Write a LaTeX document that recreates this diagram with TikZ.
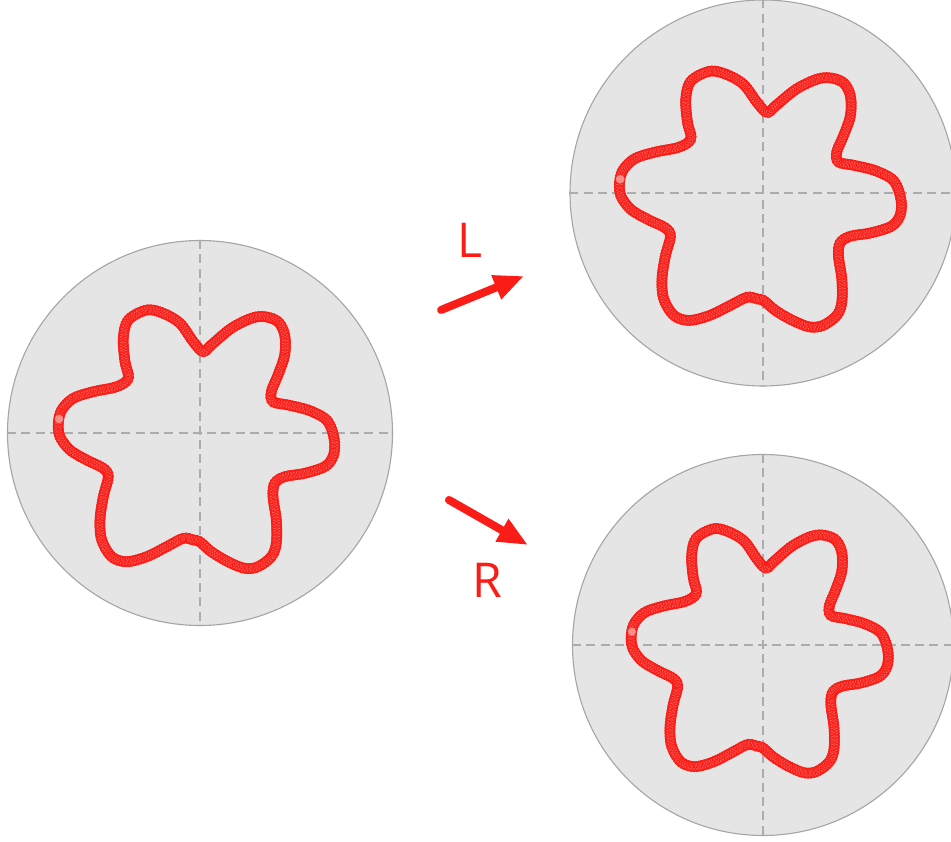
\documentclass[tikz,border=0pt]{standalone}
\usepackage{fontspec}
\setmainfont{Open Sans}
\usetikzlibrary{arrows.meta,decorations.markings}
\definecolor{mred}{RGB}{250,28,22}
\definecolor{disk}{RGB}{229,229,229}
\definecolor{rim}{RGB}{165,165,165}
\definecolor{crossc}{RGB}{172,172,172}
\newcommand{\flowerpath}[1]{%
  \path[#1] plot[smooth cycle, tension=0.55] coordinates {
   (3,81.3) (11.3,88) (31.3,104.7) (51.3,114.7) (64.7,116.3) (78,111.3)
   (84.7,98) (84.7,78) (78,58) (71.3,41.3) (73,31.3) (88,28) (108,23)
   (124.7,14.7) (131.3,4.7) (134.7,-10.3) (133,-23.7) (124.7,-33.7)
   (104.7,-40.3) (84.7,-43.7) (74.7,-50.3) (73,-63.7) (76.3,-87)
   (76.3,-110.3) (71.3,-123.7) (58,-133.7) (44.7,-135.3) (28,-128.7)
   (11.3,-118.7) (-0.3,-108.7) (-6.7,-107) (-16.7,-105.3) (-33.3,-113.7)
   (-53.3,-123.7) (-73.3,-128.7) (-88.3,-123.7) (-98.3,-107) (-100,-87)
   (-96.7,-63.7) (-91.7,-43.7) (-96.7,-35.3) (-113.3,-27) (-130,-17)
   (-140,-3.7) (-141.7,9.7) (-138.3,23) (-126.7,34.7) (-106.7,41.3)
   (-83.3,46.3) (-71.7,54.7) (-75,71.3) (-76.7,94.7) (-71.7,113)
   (-53.3,123) (-36.7,119.7) (-20,109.7) (-6.7,91.3)};}
\newcommand{\flowerat}[2]{%
  \begin{scope}[shift={#1}, yscale=-1, #2]
    \flowerpath{band}
    \flowerpath{beads}
    \fill[mred!50!white] (-141,14) circle (4.3pt);
  \end{scope}}
\begin{document}
\begin{tikzpicture}[x=1pt,y=-1pt,
  disc/.style={circle, fill=disk, draw=rim, line width=1.1pt, inner sep=0pt},
  crossline/.style={draw=crossc, line width=1.6pt, dash pattern=on 9pt off 5.3pt},
  band/.style={draw=mred!72!white, line width=10.5pt, line join=round},
  beads/.style={postaction={decorate, decoration={markings,
     mark=between positions 0 and 1 step 2.7pt with {\draw[mred, line width=0.8pt] (0,0) circle (5.1pt);}}}},
  bigarrow/.style={draw=mred, line width=8pt, line cap=round, -{Triangle[length=30pt,width=24pt]}},
  lbl/.style={text=mred, font=\fontsize{48}{48}\selectfont, inner sep=0pt}
]
\useasboundingbox (0,0) rectangle (951,842);
\clip (0,0) rectangle (951,842);

% discs
\node[disc, minimum size=385pt] (D0) at (200,433) {};
\node[disc, minimum size=386pt] (D1) at (763,193) {};
\node[disc, minimum size=381pt] (D2) at (763,645) {};

% cross hairs
\foreach \d in {D0,D1,D2}{
  \path[crossline] (\d.west) -- (\d.east);
  \path[crossline] (\d.north) -- (\d.south);
}

% flowers
\flowerat{(200,433)}{}
\flowerat{(764,193)}{xscale=1.02, yscale=0.99}
\flowerat{(763,645)}{xscale=0.93, yscale=0.945}

% arrows
\coordinate (La) at (441,310);
\coordinate (Lb) at (524,276);
\coordinate (Ra) at (449,500);
\coordinate (Rb) at (528,545);
\draw[bigarrow] (La) -- (Lb);
\draw[bigarrow] (Ra) -- (Rb);

\node[lbl] (Lt) at (470,240) {L};
\node[lbl] (Rt) at (487,580) {R};
\end{tikzpicture}
\end{document}
